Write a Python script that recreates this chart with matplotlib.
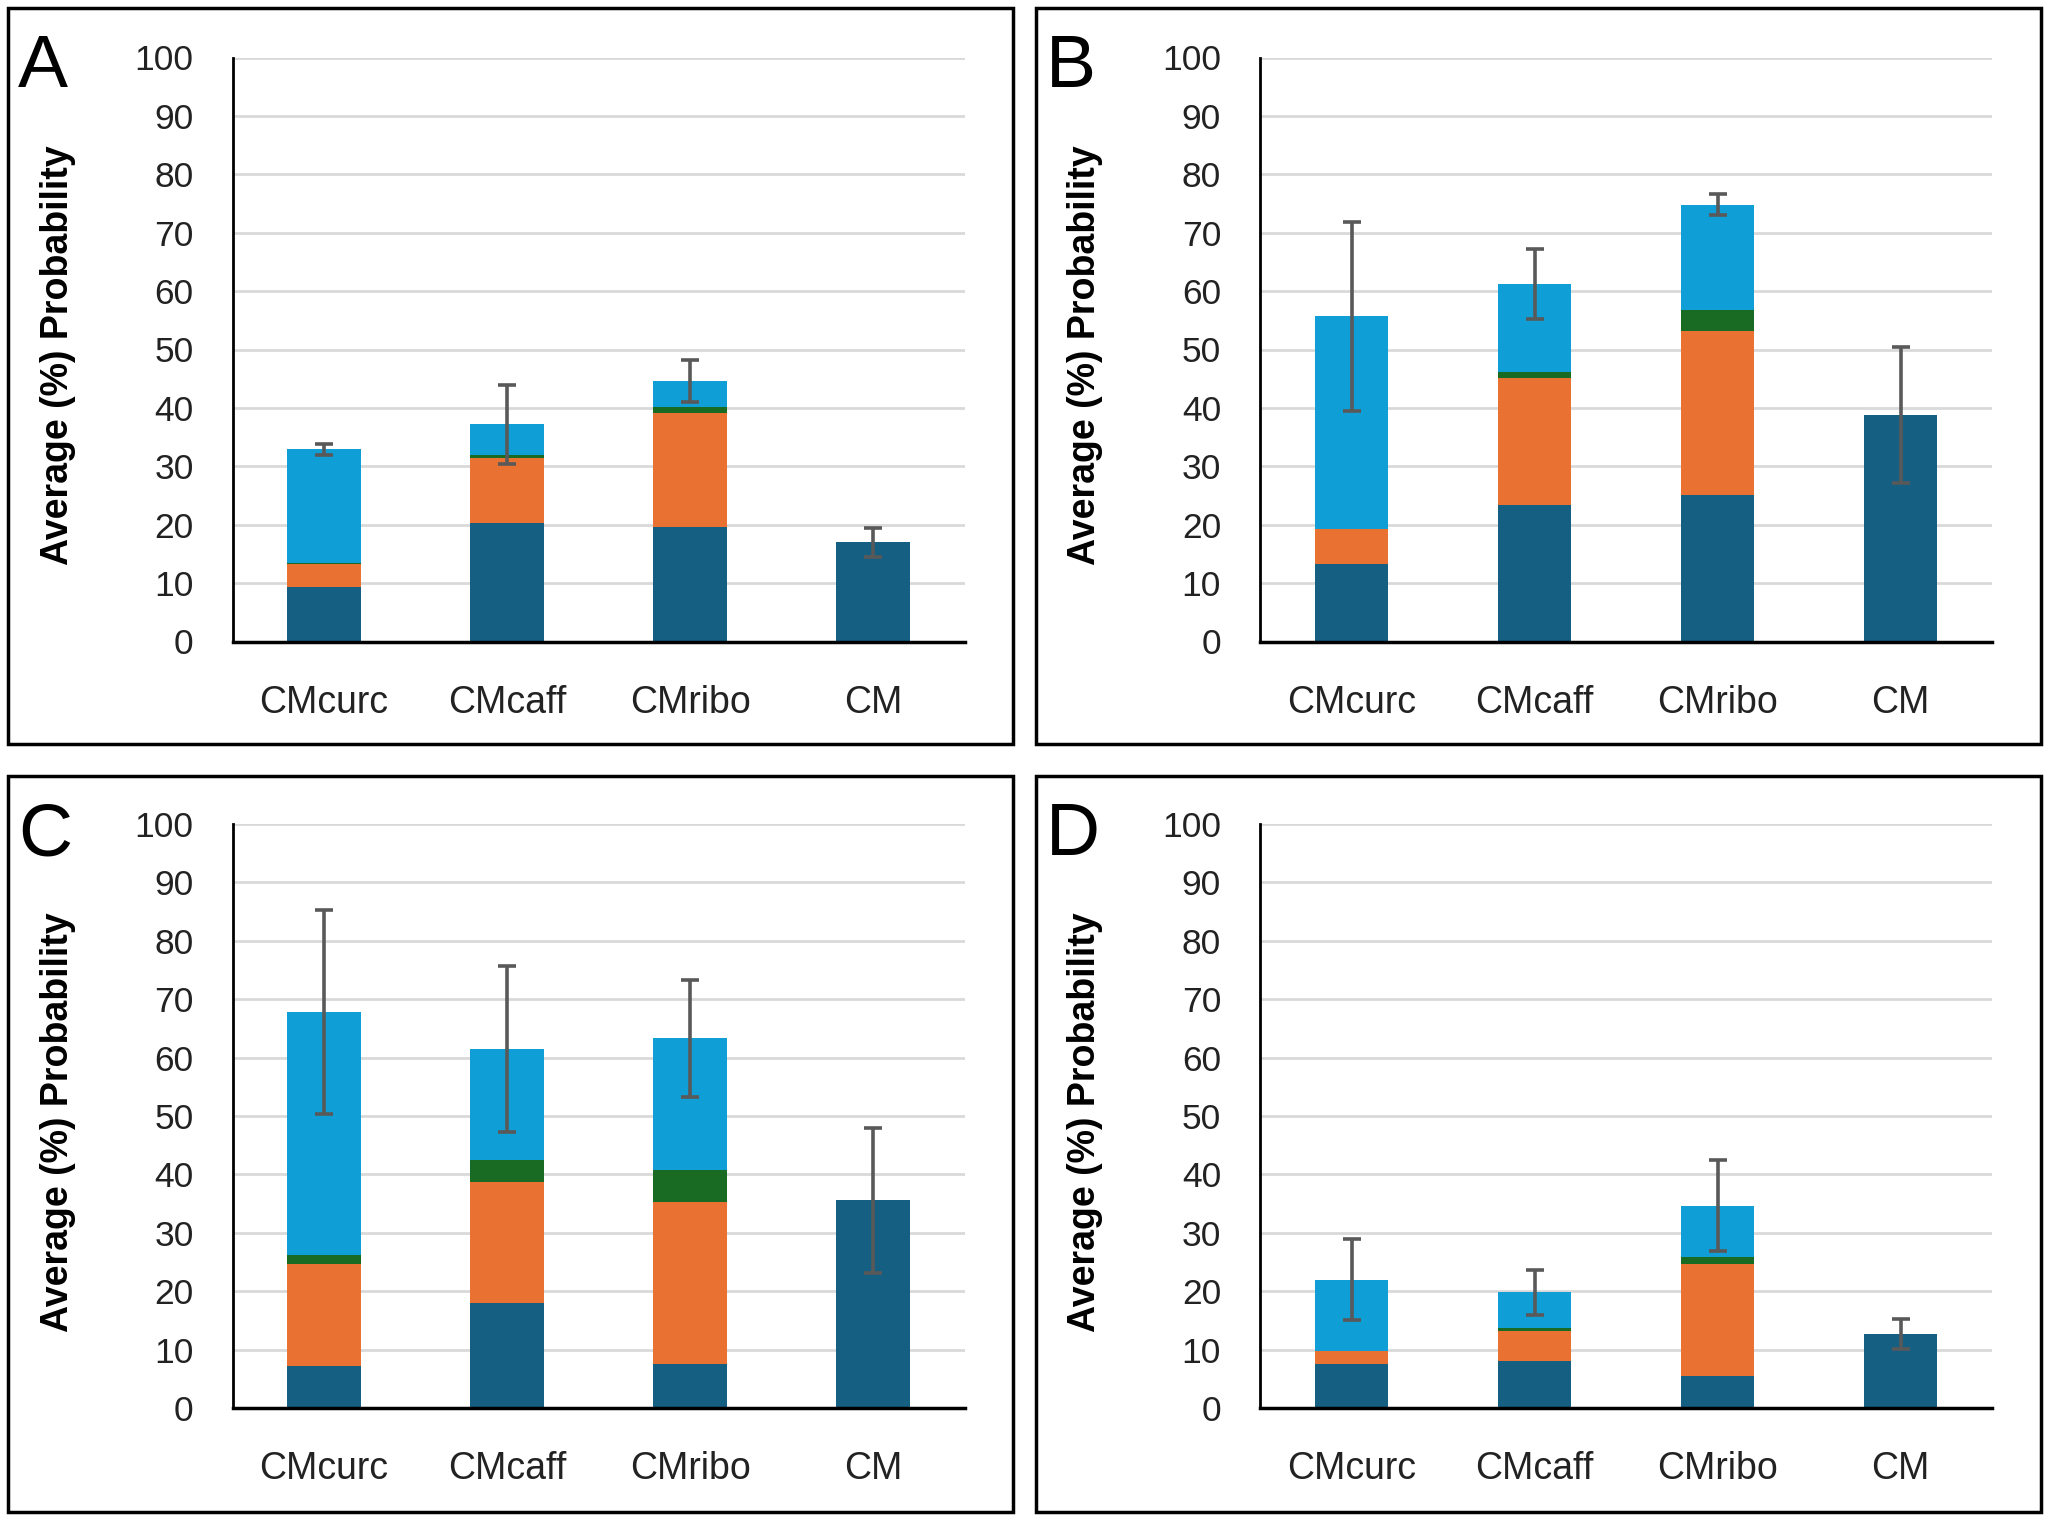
import matplotlib
matplotlib.use("Agg")
import matplotlib.pyplot as plt
from matplotlib.patches import Rectangle
import numpy as np

plt.rcParams['font.family'] = ['Liberation Sans', 'DejaVu Sans']

categories = ["CMcurc", "CMcaff", "CMribo", "CM"]
panel_letters = ["A", "B", "C", "D"]

# segment values per panel (bottom -> top)
A_dark   = [9.3, 20.3, 19.6, 17.0]
A_orange = [3.9, 11.2, 19.6, 0.0]
A_green  = [0.3, 0.4, 1.0, 0.0]
A_blue   = [19.4, 5.3, 4.4, 0.0]
A_err    = [1.0, 6.8, 3.6, 2.5]

B_dark   = [13.3, 23.3, 25.1, 38.8]
B_orange = [5.9, 21.8, 28.0, 0.0]
B_green  = [0.0, 1.0, 3.7, 0.0]
B_blue   = [36.5, 15.1, 18.0, 0.0]
B_err    = [16.2, 6.0, 1.8, 11.6]

C_dark   = [7.2, 18.0, 7.6, 35.6]
C_orange = [17.5, 20.7, 27.7, 0.0]
C_green  = [1.5, 3.7, 5.4, 0.0]
C_blue   = [41.6, 19.1, 22.6, 0.0]
C_err    = [17.5, 14.2, 10.0, 12.4]

D_dark   = [7.6, 8.1, 5.4, 12.7]
D_orange = [2.2, 5.1, 19.3, 0.0]
D_green  = [0.0, 0.5, 1.1, 0.0]
D_blue   = [12.2, 6.1, 8.8, 0.0]
D_err    = [7.0, 3.9, 7.8, 2.6]

yticks = list(range(0, 101, 10))

panels = [
    (A_dark, A_orange, A_green, A_blue, A_err),
    (B_dark, B_orange, B_green, B_blue, B_err),
    (C_dark, C_orange, C_green, C_blue, C_err),
    (D_dark, D_orange, D_green, D_blue, D_err),
]

colors = ["#156082", "#E97132", "#196B24", "#0F9ED5"]

W, H = 2048, 1521
fig = plt.figure(figsize=(W / 100, H / 100), dpi=100)

# layout in pixels
ax_lefts = [232.5, 1260, 232.5, 1260]
ax_tops = [57.5, 57.5, 824, 824]
ax_w = 732
ax_h = 584
box_x = [8, 1036, 8, 1036]
box_y = [8, 8, 776, 776]
box_w = 1005
box_h = 736

for i, (dark, orange, green, blue, err) in enumerate(panels):
    fig.add_artist(Rectangle((box_x[i] / W, 1 - (box_y[i] + box_h) / H),
                             box_w / W, box_h / H, transform=fig.transFigure,
                             fill=False, edgecolor="black", linewidth=2.5))
    ax = fig.add_axes([ax_lefts[i] / W, 1 - (ax_tops[i] + ax_h) / H, ax_w / W, ax_h / H])
    x = np.arange(len(categories))
    bottom = np.zeros(len(categories))
    for seg, c in zip([dark, orange, green, blue], colors):
        seg = np.array(seg)
        ax.bar(x, seg, width=0.4, bottom=bottom, color=c, zorder=2, linewidth=0)
        bottom = bottom + seg
    ax.errorbar(x, bottom, yerr=err, fmt="none", ecolor="#595959",
                elinewidth=2.6, capsize=6.5, capthick=2.6, zorder=3)
    ax.set_xlim(-0.5, 3.5)
    ax.set_ylim(0, 100)
    ax.set_yticks(yticks)
    ax.set_yticklabels([str(t) for t in yticks])
    ax.set_xticks(x)
    ax.set_xticklabels(categories)
    ax.yaxis.grid(True, color="#D9D9D9", linewidth=2.0, zorder=0)
    ax.set_axisbelow(True)
    for s in ["top", "right"]:
        ax.spines[s].set_visible(False)
    ax.spines["left"].set_linewidth(2.0)
    ax.spines["bottom"].set_linewidth(2.5)
    ax.tick_params(axis="y", length=0, pad=28, labelsize=25.5, labelcolor="#222222")
    ax.tick_params(axis="x", length=0, pad=31, labelsize=27, labelcolor="#222222")
    ax.set_ylabel("Average (%) Probability", fontsize=27, fontweight="bold")
    ax.yaxis.set_label_coords(-0.214, 0.49)
    fig.text((box_x[i] + 10) / W, 1 - (box_y[i] + 79) / H, panel_letters[i],
             fontsize=54, ha="left", va="baseline")

fig.savefig("out.png", dpi=100)
